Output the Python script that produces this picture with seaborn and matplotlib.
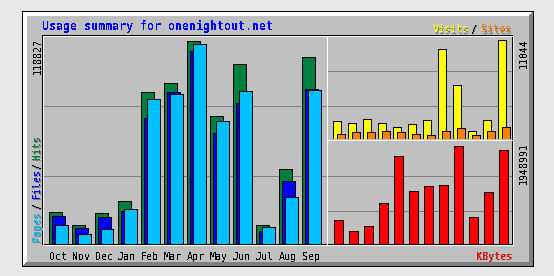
import numpy as np
import matplotlib
matplotlib.use("Agg")
import matplotlib.pyplot as plt
from matplotlib.patches import Rectangle, Polygon
import seaborn as sns

# ---------------- data ----------------
months = ["Oct", "Nov", "Dec", "Jan", "Feb", "Mar", "Apr", "May", "Jun", "Jul", "Aug", "Sep"]
hits = [18350, 10750, 17760, 24770, 88450, 93700, 118827, 74430, 104800, 10750, 43460, 108900]
files = [16000, 9000, 15420, 19100, 73260, 88450, 112580, 64500, 82200, 7400, 36450, 90200]
pages = [10750, 5490, 8410, 20100, 84360, 87450, 117070, 71680, 89030, 9580, 27100, 89620]
visits = [1950, 1800, 2250, 1800, 1350, 1580, 2030, 10030, 6085, 790, 2030, 11044]
sites = [560, 680, 680, 790, 680, 560, 450, 790, 1130, 340, 900, 1240]
kbytes = [475800, 244000, 357000, 799000, 1731000, 1037000, 1136000, 1156000,
          1948991, 521500, 1017000, 1850000]
title = "Usage summary for onenightout.net"

# ---------------- style ----------------
sns.set_theme(style="white")
plt.rcParams['font.family'] = ['DejaVu Sans Mono', 'DejaVu Sans']
plt.rcParams['text.antialiased'] = False

C_BG = '#e8e8e8'
C_PANEL = '#c0c0c0'
C_DK = '#808080'
C_HITS = '#008040'
C_FILES = '#0000ff'
C_PAGES = '#00c0ff'
C_VISITS = '#ffff00'
C_SITES = '#ff8000'
C_KB = '#ff0000'

W, H = 554, 276
fig = plt.figure(figsize=(W / 100, H / 100), dpi=100)
fig.patch.set_facecolor(C_BG)


def px_axes(x0, y0, x1, y1):
    return fig.add_axes([x0 / W, (H - y1) / H, (x1 - x0) / W, (y1 - y0) / H])


bg = px_axes(0, 0, W, H)
bg.set_xlim(0, W)
bg.set_ylim(H, 0)
bg.axis('off')


def rect(x, y, w, h, c, z=1):
    bg.add_patch(Rectangle((x, y), w, h, facecolor=c, edgecolor='none',
                           antialiased=False, zorder=z))


def outline(x0, y0, x1, y1, c):
    rect(x0, y0, x1 - x0 + 1, 1, c)
    rect(x0, y1, x1 - x0 + 1, 1, c)
    rect(x0, y0, 1, y1 - y0 + 1, c)
    rect(x1, y0, 1, y1 - y0 + 1, c)


# frame with bevel
rect(22, 11, 512, 256, 'black')
rect(23, 12, 510, 254, 'white')
bg.add_patch(Polygon([(533, 12), (533, 266), (23, 266), (27, 262), (529, 262), (529, 16)],
                     closed=True, facecolor=C_DK, edgecolor='none', antialiased=False))
rect(27, 16, 502, 246, C_PANEL)

# plot borders
outline(42, 35, 512, 244, 'black')
outline(43, 36, 513, 245, 'white')
rect(327, 36, 1, 209, 'white')
rect(327, 140, 186, 1, 'white')

# grid lines
for yy in (106, 176):
    rect(44, yy, 283, 1, C_DK)
for yy in (71, 106, 176, 211):
    rect(328, yy, 184, 1, C_DK)

LW = 0.72
idx = np.arange(12)

# ---------------- hits / files / pages ----------------
ax1 = px_axes(43, 36, 327, 244)
Mh = max(hits)
for vals, off, col in ((hits, 0, C_HITS), (files, 3, C_FILES), (pages, 6, C_PAGES)):
    sns.barplot(x=idx + off / 23, y=vals, native_scale=True, width=13 / 23,
                color=col, saturation=1, edgecolor='black', linewidth=LW,
                errorbar=None, antialiased=False, ax=ax1)
ax1.set_xlim((43 - 55) / 23, (327 - 55) / 23)
ax1.set_ylim(-0.5 * Mh / 203, (243.5 - 36) * Mh / 203)

# ---------------- visits / sites ----------------
ax2 = px_axes(328, 36, 512, 139)
Mv = max(visits)
for vals, off, col in ((visits, 0, C_VISITS), (sites, 4, C_SITES)):
    sns.barplot(x=idx + off / 15, y=vals, native_scale=True, width=8 / 15,
                color=col, saturation=1, edgecolor='black', linewidth=LW,
                errorbar=None, antialiased=False, ax=ax2)
ax2.set_xlim((328 - 336.5) / 15, (512 - 336.5) / 15)
ax2.set_ylim(-0.5 * Mv / 98, (138.5 - 36) * Mv / 98)

# ---------------- kbytes ----------------
ax3 = px_axes(328, 141, 512, 244)
Mk = max(kbytes)
sns.barplot(x=idx, y=kbytes, native_scale=True, width=9 / 15,
            color=C_KB, saturation=1, edgecolor='black', linewidth=LW,
            errorbar=None, antialiased=False, ax=ax3)
ax3.set_xlim((328 - 338) / 15, (512 - 338) / 15)
ax3.set_ylim(-0.5 * Mk / 98, (243.5 - 141) * Mk / 98)

for ax in (ax1, ax2, ax3):
    ax.patch.set_alpha(0)
    for s in ax.spines.values():
        s.set_visible(False)
    ax.set_yticks([])
    ax.set_xlabel('')
    ax.set_ylabel('')
    ax.grid(False)
ax2.set_xticks([])
ax3.set_xticks([])

ax1.set_xticks(idx + 3 / 23)
ax1.set_xticklabels(months, fontsize=7.2, color='black')
ax1.tick_params(axis='x', length=0, pad=5.6)

# ---------------- texts ----------------
FS = 7.2


def stext(x, y, s, color, shadow=True, **kw):
    if shadow:
        bg.text(x + 1, y + 1, s, color=C_DK, **kw)
    bg.text(x, y, s, color=color, **kw)


bg.text(42, 30, title, color='#0000ff', fontsize=8.37, fontweight='bold',
        ha='left', va='baseline')

rot = dict(rotation=90, rotation_mode='anchor', va='baseline', fontsize=FS)
bg.text(41, 38, f"{Mh}", color='black', ha='right', **rot)
bg.text(527, 38, f"{Mv}", color='black', ha='right', **rot)
bg.text(527, 142, f"{Mk}", color='black', ha='right', **rot)

stext(40, 241, "Pages", C_PAGES, ha='left', **rot)
stext(40, 208, "/", 'black', ha='left', **rot)
stext(40, 198, "Files", C_FILES, ha='left', **rot)
stext(40, 168, "/", 'black', ha='left', **rot)
stext(40, 159, "Hits", C_HITS, ha='left', **rot)

hz = dict(ha='left', va='baseline', fontsize=FS)
stext(433, 32.5, "Visits", C_VISITS, **hz)
stext(471.5, 32.5, "/", 'black', **hz)
stext(481, 32.5, "Sites", C_SITES, **hz)
stext(476, 259.5, "KBytes", C_KB, **hz)

fig.savefig("out.png", dpi=100, facecolor=fig.get_facecolor())
